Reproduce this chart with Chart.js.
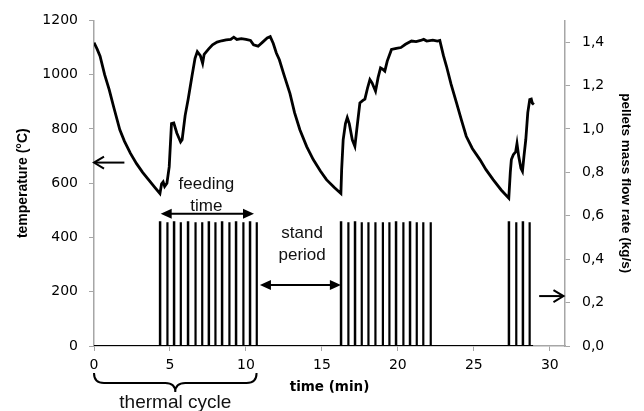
<!DOCTYPE html>
<html>
<head>
<meta charset="utf-8">
<script src="https://cdn.jsdelivr.net/npm/chart.js@4.4.1/dist/chart.umd.min.js"></script>
<style>
  html, body { margin: 0; padding: 0; background: #fff; }
  #wrap { width: 644px; height: 411px; }
</style>
</head>
<body>
<div id="wrap"><canvas id="myChart" width="644" height="411"></canvas></div>
<script>
// furnace temperature over three feeding cycles
const timeMin = [
    0, 0.2, 0.4, 0.7, 1.0, 1.3, 1.7, 2.0, 2.4, 2.8, 3.2, 3.6, 4.0, 4.34,
    4.45, 4.55, 4.65, 4.8, 4.95, 5.1, 5.25, 5.45, 5.7, 5.8, 6.0, 6.2, 6.45, 6.65, 6.8,
    7.0, 7.15, 7.25, 7.4, 7.55, 7.8, 8.1, 8.4, 8.7, 9.0, 9.2, 9.4, 9.7, 10.0, 10.3,
    10.5, 10.8, 11.1, 11.4, 11.6, 11.8, 12.0, 12.2, 12.5, 12.9, 13.2, 13.55, 14.0,
    14.43, 14.9, 15.3, 15.8, 16.25,
    16.3, 16.4, 16.55, 16.67, 16.8, 17.0, 17.17, 17.3, 17.5, 17.7, 17.83, 18.0, 18.16,
    18.3, 18.53, 18.7, 18.86, 19.0, 19.14, 19.3, 19.58, 19.9, 20.2, 20.5, 20.9, 21.2,
    21.5, 21.7, 21.9, 22.3, 22.6, 22.76, 23.0, 23.2, 23.5, 23.86, 24.2, 24.5, 24.9,
    25.4, 25.8, 26.27, 26.8, 27.3,
    27.4, 27.47, 27.6, 27.75, 27.84, 27.95, 28.1, 28.2, 28.3, 28.42, 28.55, 28.68,
    28.78, 28.85, 28.95
];
const tempC = [
    1118, 1095, 1068, 1000, 945, 880, 797, 755, 710, 672, 640, 612, 585, 562,
    598, 605, 588, 600, 660, 820, 822, 785, 752, 760, 850, 910, 995, 1060, 1085,
    1070, 1042, 1075, 1085, 1095, 1110, 1120, 1125, 1128, 1130, 1138, 1130, 1133, 1130, 1126,
    1110, 1105, 1120, 1135, 1140, 1115, 1080, 1055, 1000, 930, 860, 797, 735,
    687, 645, 613, 585, 562,
    650, 760, 820, 842, 820, 760, 736, 800, 896, 905, 910, 950, 982,
    970, 939, 990, 1025, 1020, 1013, 1050, 1093, 1097, 1100, 1112, 1124, 1122,
    1126, 1130, 1124, 1127, 1124, 1126, 1070, 1031, 965, 896, 830, 773, 728,
    687, 650, 613, 575, 545,
    640, 687, 705, 715, 746, 700, 655, 644, 700, 761, 860, 908,
    910, 895, 890
];

// start of each pellet feeding pulse (min)
const pulseStart = [
    4.34, 4.82, 5.26, 5.70, 6.18, 6.67, 7.11, 7.55, 7.98, 8.42, 8.90, 9.34, 9.82, 10.26, 10.70,
    16.25, 16.73, 17.17, 17.61, 18.05, 18.51, 19.00, 19.43, 19.87, 20.35, 20.79, 21.23, 21.66, 22.15,
    27.30, 27.78, 28.22, 28.66
];
const pulseRate = 0.57;  // kg/s while the feeder runs
const pulseLen = 0.02;   // min
const flowEnd = 28.9;

const timeTicks = [0, 5, 10, 15, 20, 25, 30];
const tempTicks = [0, 200, 400, 600, 800, 1000, 1200];
const flowTicks = [0, 0.2, 0.4, 0.6, 0.8, 1.0, 1.2, 1.4];

const tempPoints = timeMin.map((t, i) => ({x: t, y: tempC[i]}));
const flowPoints = [{x: 0, y: 0}];
pulseStart.forEach(t => {
    flowPoints.push({x: t, y: 0}, {x: t, y: pulseRate}, {x: t + pulseLen, y: pulseRate}, {x: t + pulseLen, y: 0});
});
flowPoints.push({x: flowEnd, y: 0});

// annotation layout, in axis units
const notes = {
    tempArrow: {x1: 2.0, x2: 0, y: 676},
    flowArrow: {x1: 29.3, x2: 30.9, y: 0.23},
    feedArrow: {x1: 4.39, x2: 10.53, y: 487},
    standArrow: {x1: 10.92, x2: 16.25, y: 225},
    brace: {x1: 0, x2: 10.7}
};

const axisGrey = '#a6a6a6';
const labelFont = "'Liberation Sans', Arial, sans-serif";

function head(ctx, x, y, dir, len, half, filled) {
    ctx.beginPath();
    ctx.moveTo(x - dir * len, y - half);
    ctx.lineTo(x, y);
    ctx.lineTo(x - dir * len, y + half);
    if (filled) {
        ctx.closePath();
        ctx.fill();
    } else {
        ctx.stroke();
    }
}

function hLine(ctx, xa, xb, y) {
    ctx.beginPath();
    ctx.moveTo(xa, y);
    ctx.lineTo(xb, y);
    ctx.stroke();
}

const notesPlugin = {
    id: 'notes',
    afterDraw(chart) {
        const {ctx, scales, chartArea} = chart;
        const px = v => scales.x.getPixelForValue(v);
        const py = v => scales.y.getPixelForValue(v);
        const py2 = v => scales.y2.getPixelForValue(v);
        ctx.save();
        ctx.strokeStyle = '#000';
        ctx.fillStyle = '#000';
        ctx.lineWidth = 2;
        ctx.lineCap = 'butt';

        // single arrows pointing at each axis
        let a = notes.tempArrow;
        hLine(ctx, px(a.x1), px(a.x2) + 1, py(a.y));
        head(ctx, px(a.x2), py(a.y), -1, 10, 6, false);
        a = notes.flowArrow;
        hLine(ctx, px(a.x1), px(a.x2) - 1, py2(a.y));
        head(ctx, px(a.x2), py2(a.y), 1, 10, 6, false);

        // double arrows
        [notes.feedArrow, notes.standArrow].forEach(d => {
            const y = py(d.y), xa = px(d.x1), xb = px(d.x2);
            hLine(ctx, xa + 6, xb - 6, y);
            head(ctx, xa, y, -1, 11, 5, true);
            head(ctx, xb, y, 1, 11, 5, true);
        });

        // brace under the first cycle
        const bx1 = px(notes.brace.x1), bx2 = px(notes.brace.x2);
        const bm = (bx1 + bx2) / 2;
        const top = chartArea.bottom + 27, mid = chartArea.bottom + 37, tip = chartArea.bottom + 46;
        ctx.beginPath();
        ctx.moveTo(bx1, top);
        ctx.quadraticCurveTo(bx1, mid, bx1 + 10, mid);
        ctx.lineTo(bm - 10, mid);
        ctx.quadraticCurveTo(bm, mid, bm, tip);
        ctx.quadraticCurveTo(bm, mid, bm + 10, mid);
        ctx.lineTo(bx2 - 10, mid);
        ctx.quadraticCurveTo(bx2, mid, bx2, top);
        ctx.stroke();

        ctx.font = '17px ' + labelFont;
        ctx.textAlign = 'center';
        ctx.textBaseline = 'middle';
        ctx.fillStyle = '#111';
        ctx.fillText('feeding', px(7.4), py(595));
        ctx.fillText('time', px(7.4), py(513));
        ctx.fillText('stand', px(13.7), py(417));
        ctx.fillText('period', px(13.7), py(336));
        ctx.font = '19px ' + labelFont;
        ctx.fillText('thermal cycle', bm, chartArea.bottom + 57);
        ctx.restore();
    }
};

function fixedTicks(list) {
    return scale => { scale.ticks = list.map(v => ({value: v})); };
}

Chart.defaults.font.family = "'DejaVu Sans', sans-serif";
Chart.defaults.font.size = 14;
Chart.defaults.color = '#000';

new Chart(document.getElementById('myChart'), {
    type: 'line',
    data: {
        datasets: [{
            label: 'temperature',
            data: tempPoints,
            yAxisID: 'y',
            borderColor: '#000',
            borderWidth: 2.8,
            pointRadius: 0,
            tension: 0
        }, {
            label: 'pellets',
            data: flowPoints,
            yAxisID: 'y2',
            borderColor: '#000',
            borderWidth: 2.2,
            pointRadius: 0,
            tension: 0
        }]
    },
    options: {
        responsive: false,
        animation: false,
        devicePixelRatio: 1,
        layout: {padding: {top: 20, left: 0, right: 0, bottom: 0}},
        plugins: {legend: {display: false}, tooltip: {enabled: false}},
        scales: {
            x: {
                type: 'linear',
                min: 0,
                max: 31,
                afterBuildTicks: fixedTicks(timeTicks),
                afterFit: s => { s.height = 65; },
                grid: {drawOnChartArea: false, color: axisGrey, tickLength: 5},
                border: {color: axisGrey, width: 1.5},
                ticks: {padding: 6},
                title: {
                    display: true,
                    text: 'time (min)',
                    font: {size: 13.5, weight: 'bold'},
                    padding: {top: 0, bottom: 15}
                }
            },
            y: {
                position: 'left',
                min: 0,
                max: 1200,
                afterBuildTicks: fixedTicks(tempTicks),
                afterFit: s => { s.width = 94; },
                grid: {drawOnChartArea: false, color: axisGrey, tickLength: 5},
                border: {color: axisGrey, width: 1.5},
                ticks: {padding: 11, callback: v => String(v)},
                title: {
                    display: true,
                    text: 'temperature (°C)',
                    font: {family: "'Liberation Sans Narrow', 'Liberation Sans', sans-serif", size: 14, weight: 'bold'},
                    padding: {top: 15, bottom: 0}
                }
            },
            y2: {
                position: 'right',
                min: 0,
                max: 1.5,
                afterBuildTicks: fixedTicks(flowTicks),
                afterFit: s => { s.width = 79; },
                grid: {drawOnChartArea: false, color: axisGrey, tickLength: 5},
                border: {color: axisGrey, width: 1.5},
                ticks: {
                    padding: 12,
                    callback: v => v.toFixed(1).replace('.', ',')
                },
                title: {
                    display: true,
                    text: 'pellets mass flow rate (kg/s)',
                    font: {family: "'Liberation Sans Narrow', 'Liberation Sans', sans-serif", size: 13.5, weight: 'bold'},
                    padding: {top: 10, bottom: 0}
                }
            }
        }
    },
    plugins: [notesPlugin]
});
</script>
</body>
</html>
